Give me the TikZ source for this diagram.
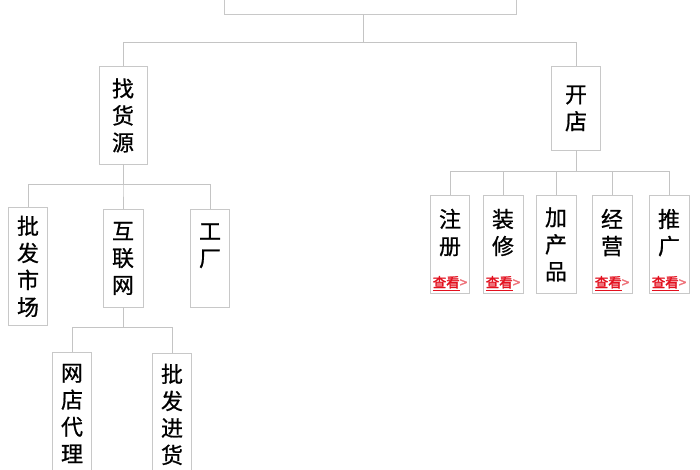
\documentclass[tikz,border=0pt]{standalone}
\usepackage{fontspec}
\setmainfont[FakeBold=0.8]{Noto Sans CJK SC}
\newfontfamily\linkfont[FakeBold=2]{Noto Sans CJK SC}
\usepackage{xcolor}
\usepackage{tikz}
\usetikzlibrary{positioning}
\usetikzlibrary{calc}
\definecolor{boxgray}{HTML}{C8C8C8}
\definecolor{linegray}{HTML}{C4C4C4}
\definecolor{linkred}{HTML}{E3101E}
\tikzset{
	stagebox/.style={
		draw=boxgray, line width=0.9pt, fill=white,
		anchor=north, align=center, inner sep=0pt,
		minimum width=#1,
		font=\fontsize{22}{27}\selectfont
	},
	stagebox/.default=40pt,
	link/.style={
		draw=linegray, line width=0.9pt
	}
}
\def\lift{\rule{0pt}{29pt}}
\def\more{\\[6pt]{\linkfont\fontsize{13.5}{13.5}\selectfont\color{linkred}\underline{查看}\color{linkred!60}>}}

\begin{document}
\begin{tikzpicture}[x=1pt,y=1pt]
    \useasboundingbox (0,0) rectangle (700,470);
    \clip (0,0) rectangle (700,470);

    % top
    \node [stagebox=292pt, minimum height=60pt, anchor=south] (root) at (370,455) {};

    % second level
    \node [stagebox=48pt, minimum height=98pt] (source) at (123,404) {找\\货\\源};
    \node [stagebox=49pt, minimum height=84pt] (shop) at (576,404) {开\\店};

    % goods source
    \node [stagebox=39pt, minimum height=118pt] (market) at (28,263) {批\\发\\市\\场};
    \node [stagebox, minimum height=98pt] (internet) at (123,261) {互\\联\\网};
    \node [stagebox=39pt, minimum height=98pt] (factory) at (210,261) {工\\厂\\{}};

    % internet
    \node [stagebox=39pt, minimum height=122pt] (agent) at (72,118) {网\\店\\代\\理};
    \node [stagebox=39pt, minimum height=122pt] (bulk) at (172,117) {批\\发\\进\\货};

    % open a shop
    \node [stagebox=39pt, minimum height=98pt] (register) at (450,275) {\lift 注\\册\more};
    \node [stagebox, minimum height=98pt] (decorate) at (503,275) {\lift 装\\修\more};
    \node [stagebox, minimum height=98pt] (products) at (556,275) {加\\产\\品};
    \node [stagebox, minimum height=98pt] (operate) at (612,275) {\lift 经\\营\more};
    \node [stagebox, minimum height=98pt] (promote) at (669,275) {\lift 推\\广\more};

    \coordinate (rootstem) at ($(root.south)+(-7,0)$);
    \foreach \n in {source,shop}
        \draw [link] (rootstem) -- ++(0,-27) -| (\n.north);
    \foreach \n in {market,internet,factory}
        \draw [link] (source.south) -- ++(0,-20) -| (\n.north);
    \foreach \n in {agent,bulk}
        \draw [link] (internet.south) -- ++(0,-20) -| (\n.north);
    \foreach \n in {register,decorate,products,operate,promote}
        \draw [link] (shop.south) -- ++(0,-20.5) -| (\n.north);
\end{tikzpicture}
\end{document}
